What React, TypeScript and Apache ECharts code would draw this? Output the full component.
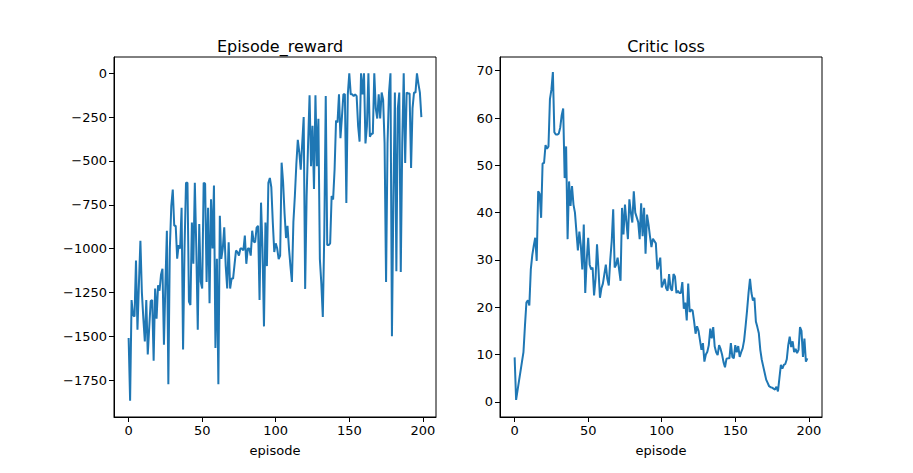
import React, { useRef, useEffect } from "react";
import * as echarts from "echarts";

const episodeTicks = [0, 50, 100, 150, 200];
const rewardTicks = [-1750, -1500, -1250, -1000, -750, -500, -250, 0];
const lossTicks = [0, 10, 20, 30, 40, 50, 60, 70];

const reward = [
  -1510, -1868, -1294, -1380, -1388, -1068, -1463, -1200, -955, -1250,
  -1400, -1530, -1294, -1604, -1450, -1300, -1294, -1640, -1228, -1400,
  -1210, -1240, -1150, -1115, -1548, -1200, -898, -1774, -1000, -757,
  -663, -870, -870, -1058, -980, -1000, -767, -1576, -1000, -625,
  -625, -1303, -1322, -851, -1087, -625, -1000, -1463, -860, -1190,
  -1228, -625, -630, -1190, -767, -1312, -719, -1000, -640, -1567,
  -1058, -1774, -813, -1058, -1000, -879, -1100, -1228, -964, -1228,
  -1171, -1171, -1090, -1011, -1020, -1040, -1000, -1000, -1011, -926,
  -1087, -1000, -1000, -1040, -898, -960, -964, -880, -870, -1294,
  -738, -1000, -1444, -851, -1100, -625, -597, -650, -850, -1020,
  -970, -1000, -1060, -1040, -510, -620, -800, -940, -870, -1000,
  -1100, -1190, -850, -700, -520, -380, -450, -550, -400, -250,
  -1230, -700, -400, -125, -530, -300, -660, -125, -530, -260,
  -1060, -1200, -1390, -920, -130, -980, -980, -970, -700, -720,
  -550, -270, -280, -120, -370, -250, -120, -120, -740, -120,
  0, -120, -120, -130, -120, -130, -300, -390, 0, -120,
  0, -400, -300, 0, -362, -345, -345, 0, -200, -258,
  -120, -258, -110, -150, -400, -1190, -400, -110, 0, -1500,
  -700, -110, -1130, -200, -110, -1133, -400, 0, -512, -110,
  -115, -115, -540, -200, -110, -110, 0, -60, -110, -250,
];

const criticLoss = [
  9.4, 0.4, 2.5, 4.5, 6.5, 8.5, 10.5, 16, 21, 21.5,
  20.4, 28, 31, 33, 34.7, 29.8, 44.5, 44, 38.9, 50.4,
  50.5, 54.3, 53.5, 54, 64, 66, 69.7, 57, 56.5, 56.5,
  56.7, 58, 60.6, 62, 47.3, 54, 34.4, 46.6, 41.4, 45.6,
  41.7, 40, 36, 32, 36, 33, 28, 37.5, 23, 30,
  34.7, 29, 28, 28.4, 22.5, 26, 33.3, 28, 22, 24,
  25, 27, 29, 26, 24.6, 30, 34, 40.7, 28.4, 29,
  30.5, 28, 25.6, 41, 35.4, 41.7, 38, 34.4, 42.8, 40,
  37.9, 44.5, 40, 39, 38, 34.4, 42, 35, 41, 31.3,
  39.6, 37.5, 35, 32.7, 34.5, 34, 33.5, 28, 29, 30.5,
  24.2, 25, 26, 24, 23.5, 27, 24, 23.5, 27, 26.5,
  23, 23.5, 23, 23, 25.3, 19.7, 21, 17.2, 25, 19,
  19.5, 19.3, 17, 14.4, 16, 15, 13, 11, 12.4, 8.5,
  10, 10.6, 12, 15.5, 13.4, 15.8, 11.7, 10.5, 9.9, 12,
  11.2, 10, 8.4, 7.3, 9.1, 9.2, 9.2, 12.4, 9.5, 9.2,
  12, 10.5, 11.8, 9.5, 10.5, 11.3, 13, 16, 19.3, 23,
  26, 23, 21.4, 22, 17, 15.8, 14.5, 11, 8.9, 7.5,
  6.1, 4.7, 4, 3.3, 3.1, 3, 2.8, 2.6, 3.2, 2.2,
  5, 7.8, 7, 7.8, 8, 9, 12, 13.8, 11.6, 12.8,
  10.5, 11.2, 10.3, 11, 15.8, 15, 9.5, 13.4, 8.5, 9.2,
];

const font = "DejaVu Sans";
const fmt = (v: number) => (v < 0 ? "\u2212" + Math.abs(v) : String(v));

function xAxis(gridIndex: number) {
  return {
    type: "value",
    gridIndex,
    min: -9.95,
    max: 208.95,
    name: "episode",
    nameLocation: "middle",
    nameGap: 27,
    nameTextStyle: { color: "#000", fontFamily: font, fontSize: 13 },
    axisLine: { show: true, onZero: false, lineStyle: { color: "#000", width: 1 } },
    axisTick: { show: true, length: 5, customValues: episodeTicks, lineStyle: { color: "#000" } },
    axisLabel: { customValues: episodeTicks, color: "#000", fontFamily: font, fontSize: 13, margin: 7, formatter: fmt },
    splitLine: { show: false },
  };
}

function yAxis(gridIndex: number, min: number, max: number, ticks: number[]) {
  return {
    type: "value",
    gridIndex,
    min,
    max,
    axisLine: { show: true, onZero: false, lineStyle: { color: "#000", width: 1 } },
    axisTick: { show: true, length: 5, customValues: ticks, lineStyle: { color: "#000" } },
    axisLabel: { customValues: ticks, color: "#000", fontFamily: font, fontSize: 13, margin: 7, formatter: fmt },
    splitLine: { show: false },
  };
}

export default function App() {
  const chartRef = useRef<HTMLDivElement>(null);

  useEffect(() => {
    if (!chartRef.current) return;
    const chart = echarts.init(chartRef.current, null, { renderer: "svg" });
    const episodes = reward.map((_, i) => i);

    chart.setOption({
      animation: false,
      backgroundColor: "#fff",
      title: [
        { text: "Episode_reward", left: 275, top: 33, textAlign: "center", textStyle: { fontFamily: font, fontSize: 16, fontWeight: "normal", color: "#000" } },
        { text: "Critic loss", left: 661, top: 33, textAlign: "center", textStyle: { fontFamily: font, fontSize: 16, fontWeight: "normal", color: "#000" } },
      ],
      grid: [
        { left: 114, top: 57, width: 322, height: 360, show: true, borderColor: "#000", borderWidth: 1, backgroundColor: "transparent" },
        { left: 500, top: 57, width: 322, height: 360, show: true, borderColor: "#000", borderWidth: 1, backgroundColor: "transparent" },
      ],
      xAxis: [xAxis(0), xAxis(1)],
      yAxis: [yAxis(0, -1961, 93, rewardTicks), yAxis(1, -3.2, 72.9, lossTicks)],
      series: [
        {
          type: "line",
          xAxisIndex: 0,
          yAxisIndex: 0,
          data: reward.map((v, i) => [episodes[i], v]),
          symbol: "none",
          lineStyle: { color: "#1f77b4", width: 2 },
        },
        {
          type: "line",
          xAxisIndex: 1,
          yAxisIndex: 1,
          data: criticLoss.map((v, i) => [episodes[i], v]),
          symbol: "none",
          lineStyle: { color: "#1f77b4", width: 2 },
        },
      ],
    });

    return () => chart.dispose();
  }, []);

  return <div ref={chartRef} style={{ position: "fixed", left: 0, top: 0, width: 913, height: 473 }} />;
}
